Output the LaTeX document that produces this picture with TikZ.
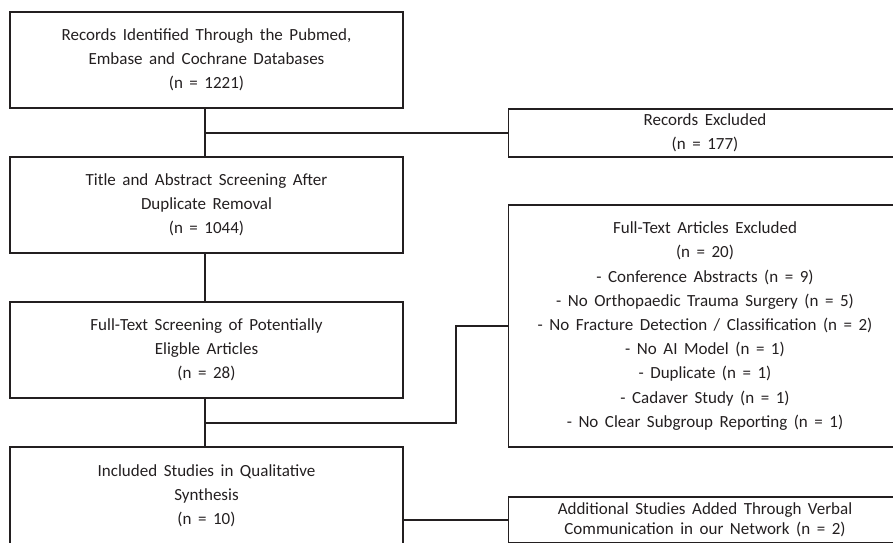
\documentclass[tikz,border=0pt]{standalone}
\usepackage{fontspec}
\setmainfont{Carlito}[WordSpace=1.7]
\usetikzlibrary{calc}
\definecolor{ink}{HTML}{231F20}
\begin{document}
\begin{tikzpicture}[x=1pt,y=-1pt,
  box/.style={draw=ink,line width=1.9pt,text=ink,align=center,inner sep=0pt,
    minimum width=393pt,font=\fontsize{17}{24.2}\selectfont},
  conn/.style={draw=ink,line width=1.9pt}]
\useasboundingbox (0,0) rectangle (893,542);
\node[box,minimum height=96pt] (b1) at (206.5,60) {Records Identified Through the Pubmed,\\Embase and Cochrane Databases\\(n = 1221)};
\node[box,minimum height=96pt] (b2) at (206.5,205) {Title and Abstract Screening After\\Duplicate Removal\\(n = 1044)};
\node[box,minimum height=96pt] (b3) at (206.5,350) {Full-Text Screening of Potentially\\Eligble Articles\\(n = 28)};
\node[box,minimum height=98pt] (b4) at (206.5,496) {Included Studies in Qualitative\\Synthesis\\(n = 10)};
\node[box,minimum height=48pt] (r1) at (705,133) {Records Excluded\\(n = 177)};
\node[box,minimum height=242pt] (r2) at (705,326) {Full-Text Articles Excluded\\(n = 20)\\- Conference Abstracts (n = 9)\\- No Orthopaedic Trauma Surgery (n = 5)\\- No Fracture Detection / Classification (n = 2)\\- No AI Model (n = 1)\\- Duplicate (n = 1)\\- Cadaver Study (n = 1)\\- No Clear Subgroup Reporting (n = 1)};
\node[box,minimum height=46pt,font=\fontsize{17}{19.5}\selectfont] (r3) at (705,520) {Additional Studies Added Through Verbal\\Communication in our Network (n = 2)};
\coordinate (j1) at (205,133);
\coordinate (j2) at (205,423);
\coordinate (k) at (456,326);
\draw[conn] (205,108) -- (205,157);
\draw[conn] (j1) -- (r1.west);
\draw[conn] (205,253) -- (205,302);
\draw[conn] (205,398) -- (205,447);
\draw[conn] (j2) -| (k) -- (r2.west);
\draw[conn] (b4.east |- r3.west) -- (r3.west);
\end{tikzpicture}
\end{document}
